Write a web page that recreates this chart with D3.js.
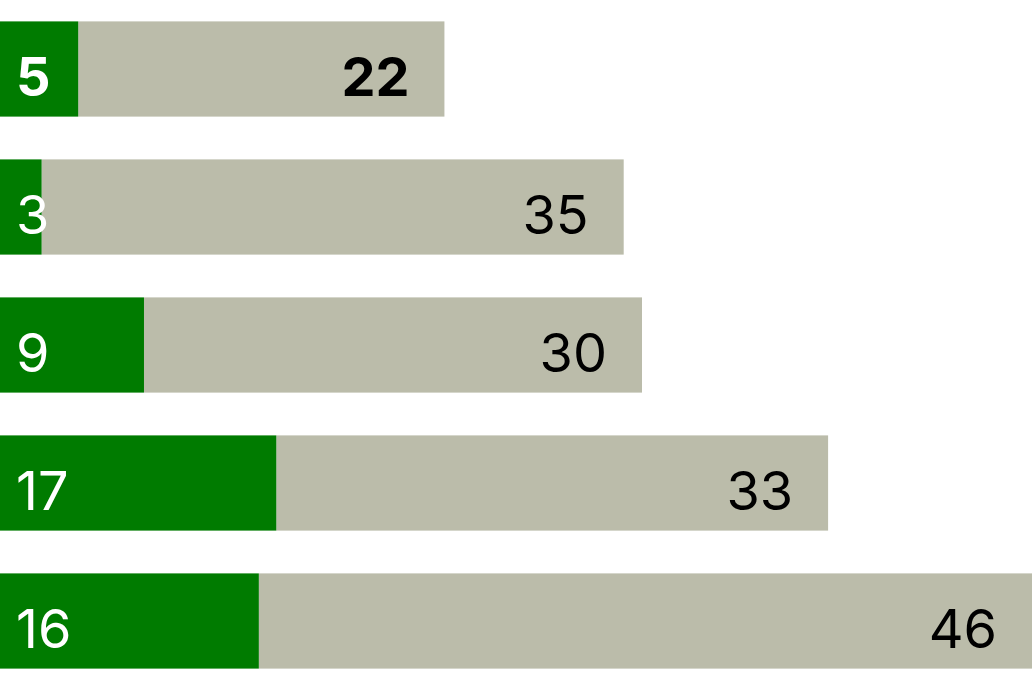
<!DOCTYPE html>
<html>
<head>
<meta charset="utf-8">
<script src="https://d3js.org/d3.v7.min.js"></script>
<style>
  body { margin: 0; background: #fff; }
  svg { display: block; }
</style>
</head>
<body>
<div id="chart"></div>
<script>
// values (labels shown rounded)
var rows = ["r1", "r2", "r3", "r4", "r5"];
var greenValues = [4.7, 2.5, 8.65, 16.6, 15.55];
var greyValues = [22.0, 34.97, 29.92, 33.15, 46.45];
var boldRow = 0;

var width = 1032, height = 690;

var svg = d3.select("#chart").append("svg")
    .attr("width", width)
    .attr("height", height);

var x = d3.scaleLinear()
    .domain([0, d3.max(rows, function(d, i) { return greenValues[i] + greyValues[i]; })])
    .range([0, width]);

var y = d3.scaleBand()
    .domain(rows)
    .range([0, height])
    .paddingInner(0.31)
    .paddingOuter(0.155);

var fmt = d3.format(".0f");

var g = svg.selectAll("g.row")
    .data(rows)
  .enter().append("g")
    .attr("class", "row")
    .attr("transform", function(d) { return "translate(0," + y(d) + ")"; });

// grey part
g.append("rect")
    .attr("x", function(d, i) { return x(greenValues[i]); })
    .attr("width", function(d, i) { return x(greenValues[i] + greyValues[i]) - x(greenValues[i]); })
    .attr("height", y.bandwidth())
    .attr("fill", "#bbbcaa");

// green part
g.append("rect")
    .attr("x", 0)
    .attr("width", function(d, i) { return x(greenValues[i]); })
    .attr("height", y.bandwidth())
    .attr("fill", "#007b00");

g.append("text")
    .attr("x", 16)
    .attr("y", 75)
    .attr("fill", "#fff")
    .style("font-family", "Inter, sans-serif")
    .style("font-size", "54px")
    .style("font-weight", function(d, i) { return i === boldRow ? 700 : 400; })
    .text(function(d, i) { return fmt(greenValues[i]); });

g.append("text")
    .attr("x", function(d, i) { return x(greenValues[i] + greyValues[i]) - 35; })
    .attr("y", 75)
    .attr("text-anchor", "end")
    .attr("fill", "#000")
    .style("font-family", "Inter, sans-serif")
    .style("font-size", "54px")
    .style("font-weight", function(d, i) { return i === boldRow ? 700 : 400; })
    .text(function(d, i) { return fmt(greyValues[i]); });
</script>
</body>
</html>
